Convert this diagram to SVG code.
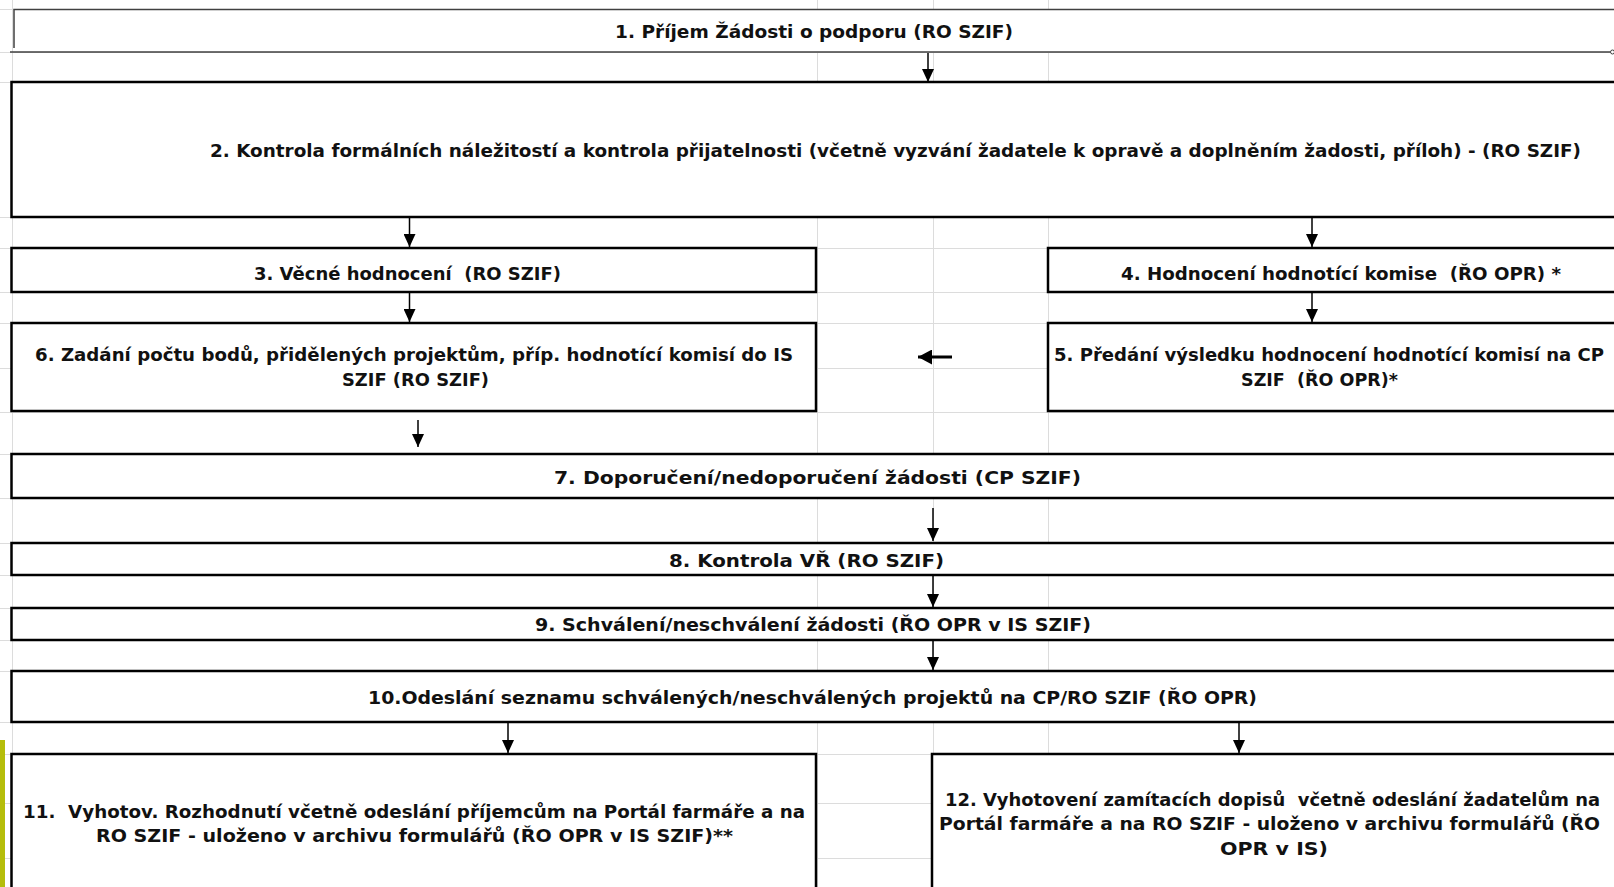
<svg xmlns="http://www.w3.org/2000/svg" width="1614" height="887" viewBox="0 0 1614 887">
<defs>
<style>
.grid line{stroke:#dcdcdc;stroke-width:1}
.box{fill:#fff;stroke:#000;stroke-width:2.5}
.t{font-family:'DejaVu Sans',Verdana,sans-serif;font-weight:bold;font-size:18.5px;fill:#111;white-space:pre}
.s{font-size:17.5px}
.c{stroke:#000;stroke-width:1.5;fill:none;marker-end:url(#ah)}
.c2{stroke:#000;stroke-width:3;fill:none;marker-end:url(#ah2)}
</style>
<marker id="ah" viewBox="0 0 13 12" refX="13" refY="6" markerWidth="13" markerHeight="12" markerUnits="userSpaceOnUse" orient="auto"><path d="M0,0 L13,6 L0,12 z" fill="#000"/></marker>
<marker id="ah2" viewBox="0 0 14 15" refX="14" refY="7.5" markerWidth="14" markerHeight="15" markerUnits="userSpaceOnUse" orient="auto"><path d="M0,0 L14,7.5 L0,15 z" fill="#000"/></marker>
</defs>
<rect width="1614" height="887" fill="#fff"/>
<g id="grid" class="grid">
<line x1="12.5" y1="0" x2="12.5" y2="887"/>
<line x1="817.5" y1="0" x2="817.5" y2="887"/>
<line x1="933.5" y1="0" x2="933.5" y2="887"/>
<line x1="1048.5" y1="0" x2="1048.5" y2="887"/>
<line x1="0" y1="9.5" x2="1614" y2="9.5"/>
<line x1="0" y1="52.5" x2="1614" y2="52.5"/>
<line x1="0" y1="82.5" x2="1614" y2="82.5"/>
<line x1="0" y1="217.5" x2="1614" y2="217.5"/>
<line x1="0" y1="248.5" x2="1614" y2="248.5"/>
<line x1="0" y1="292.5" x2="1614" y2="292.5"/>
<line x1="0" y1="323.5" x2="1614" y2="323.5"/>
<line x1="0" y1="368.5" x2="1614" y2="368.5"/>
<line x1="0" y1="412.5" x2="1614" y2="412.5"/>
<line x1="0" y1="454.5" x2="1614" y2="454.5"/>
<line x1="0" y1="498.5" x2="1614" y2="498.5"/>
<line x1="0" y1="543.5" x2="1614" y2="543.5"/>
<line x1="0" y1="575.5" x2="1614" y2="575.5"/>
<line x1="0" y1="608.5" x2="1614" y2="608.5"/>
<line x1="0" y1="640.5" x2="1614" y2="640.5"/>
<line x1="0" y1="671.5" x2="1614" y2="671.5"/>
<line x1="0" y1="722.5" x2="1614" y2="722.5"/>
<line x1="0" y1="754.5" x2="1614" y2="754.5"/>
<line x1="0" y1="803.5" x2="1614" y2="803.5"/>
<line x1="0" y1="858.5" x2="1614" y2="858.5"/>
</g>
<rect x="0" y="740" width="5" height="147" fill="#b5bd0a"/>
<g id="n1">
<rect x="14" y="10" width="1610" height="42" fill="#fff"/>
<path d="M14,48 L14,9.5 L1614,9.5" fill="none" stroke="#404040" stroke-width="1.5"/>
<line x1="10" y1="52" x2="1610.5" y2="52" stroke="#404040" stroke-width="1.5"/>
<circle cx="1612.5" cy="52" r="2" fill="#fff" stroke="#404040" stroke-width="1"/>
<text class="t" x="615" y="38" textLength="398" lengthAdjust="spacingAndGlyphs">1. Příjem Žádosti o podporu (RO SZIF)</text>
</g>
<g id="n2">
<rect class="box" x="11.5" y="82" width="1640" height="135"/>
<text class="t" x="210" y="157" textLength="1371" lengthAdjust="spacingAndGlyphs">2. Kontrola formálních náležitostí a kontrola přijatelnosti (včetně vyzvání žadatele k opravě a doplněním žadosti, příloh) - (RO SZIF)</text>
</g>
<g id="n3">
<rect class="box" x="11.5" y="248" width="804.5" height="44"/>
<text class="t" x="254" y="280" textLength="307" lengthAdjust="spacingAndGlyphs">3. Věcné hodnocení  (RO SZIF)</text>
</g>
<g id="n4">
<rect class="box" x="1048" y="248" width="600" height="44"/>
<text class="t" x="1121" y="280" textLength="440" lengthAdjust="spacingAndGlyphs">4. Hodnocení hodnotící komise  (ŘO OPR) *</text>
</g>
<g id="n6">
<rect class="box" x="11.5" y="323" width="804.5" height="88"/>
<text class="t" x="35" y="361" textLength="758" lengthAdjust="spacingAndGlyphs">6. Zadání počtu bodů, přidělených projektům, příp. hodnotící komisí do IS</text>
<text class="t" x="342" y="386" textLength="147" lengthAdjust="spacingAndGlyphs">SZIF (RO SZIF)</text>
</g>
<g id="n5">
<rect class="box" x="1048" y="323" width="600" height="88"/>
<text class="t s" x="1054" y="361" textLength="550" lengthAdjust="spacingAndGlyphs">5. Předání výsledku hodnocení hodnotící komisí na CP</text>
<text class="t" x="1241" y="386" textLength="157" lengthAdjust="spacingAndGlyphs">SZIF  (ŘO OPR)*</text>
</g>
<g id="n7">
<rect class="box" x="11.5" y="454" width="1640" height="44"/>
<text class="t" x="554" y="484" textLength="527" lengthAdjust="spacingAndGlyphs">7. Doporučení/nedoporučení žádosti (CP SZIF)</text>
</g>
<g id="n8">
<rect class="box" x="11.5" y="543" width="1640" height="32"/>
<text class="t" x="669" y="567" textLength="275" lengthAdjust="spacingAndGlyphs">8. Kontrola VŘ (RO SZIF)</text>
</g>
<g id="n9">
<rect class="box" x="11.5" y="608" width="1640" height="32"/>
<text class="t" x="535" y="631" textLength="556" lengthAdjust="spacingAndGlyphs">9. Schválení/neschválení žádosti (ŘO OPR v IS SZIF)</text>
</g>
<g id="n10">
<rect class="box" x="11.5" y="671" width="1640" height="51"/>
<text class="t" x="368" y="704" textLength="889" lengthAdjust="spacingAndGlyphs">10.Odeslání seznamu schválených/neschválených projektů na CP/RO SZIF (ŘO OPR)</text>
</g>
<g id="n11">
<rect class="box" x="11.5" y="754" width="804.5" height="150"/>
<text class="t" x="23" y="818" textLength="782" lengthAdjust="spacingAndGlyphs">11.  Vyhotov. Rozhodnutí včetně odeslání příjemcům na Portál farmáře a na</text>
<text class="t" x="96" y="842" textLength="637" lengthAdjust="spacingAndGlyphs">RO SZIF - uloženo v archivu formulářů (ŘO OPR v IS SZIF)**</text>
</g>
<g id="n12">
<rect class="box" x="932" y="754" width="720" height="150"/>
<text class="t s" x="945" y="806" textLength="655" lengthAdjust="spacingAndGlyphs">12. Vyhotovení zamítacích dopisů  včetně odeslání žadatelům na</text>
<text class="t s" x="939" y="830" textLength="661" lengthAdjust="spacingAndGlyphs">Portál farmáře a na RO SZIF - uloženo v archivu formulářů (ŘO</text>
<text class="t" x="1220" y="855" textLength="108" lengthAdjust="spacingAndGlyphs">OPR v IS)</text>
</g>
<g id="connectors">
<line class="c" x1="928" y1="53" x2="928" y2="82"/>
<line class="c" x1="409.5" y1="218" x2="409.5" y2="247"/>
<line class="c" x1="1312" y1="218" x2="1312" y2="247"/>
<line class="c" x1="409.5" y1="293" x2="409.5" y2="322"/>
<line class="c" x1="1312" y1="293" x2="1312" y2="322"/>
<line class="c2" x1="952" y1="357" x2="918" y2="357"/>
<line class="c" x1="418" y1="420" x2="418" y2="447"/>
<line class="c" x1="933" y1="508" x2="933" y2="541"/>
<line class="c" x1="933" y1="576" x2="933" y2="607"/>
<line class="c" x1="933" y1="641" x2="933" y2="670"/>
<line class="c" x1="508" y1="723" x2="508" y2="753"/>
<line class="c" x1="1239" y1="723" x2="1239" y2="753"/>
</g>
</svg>
